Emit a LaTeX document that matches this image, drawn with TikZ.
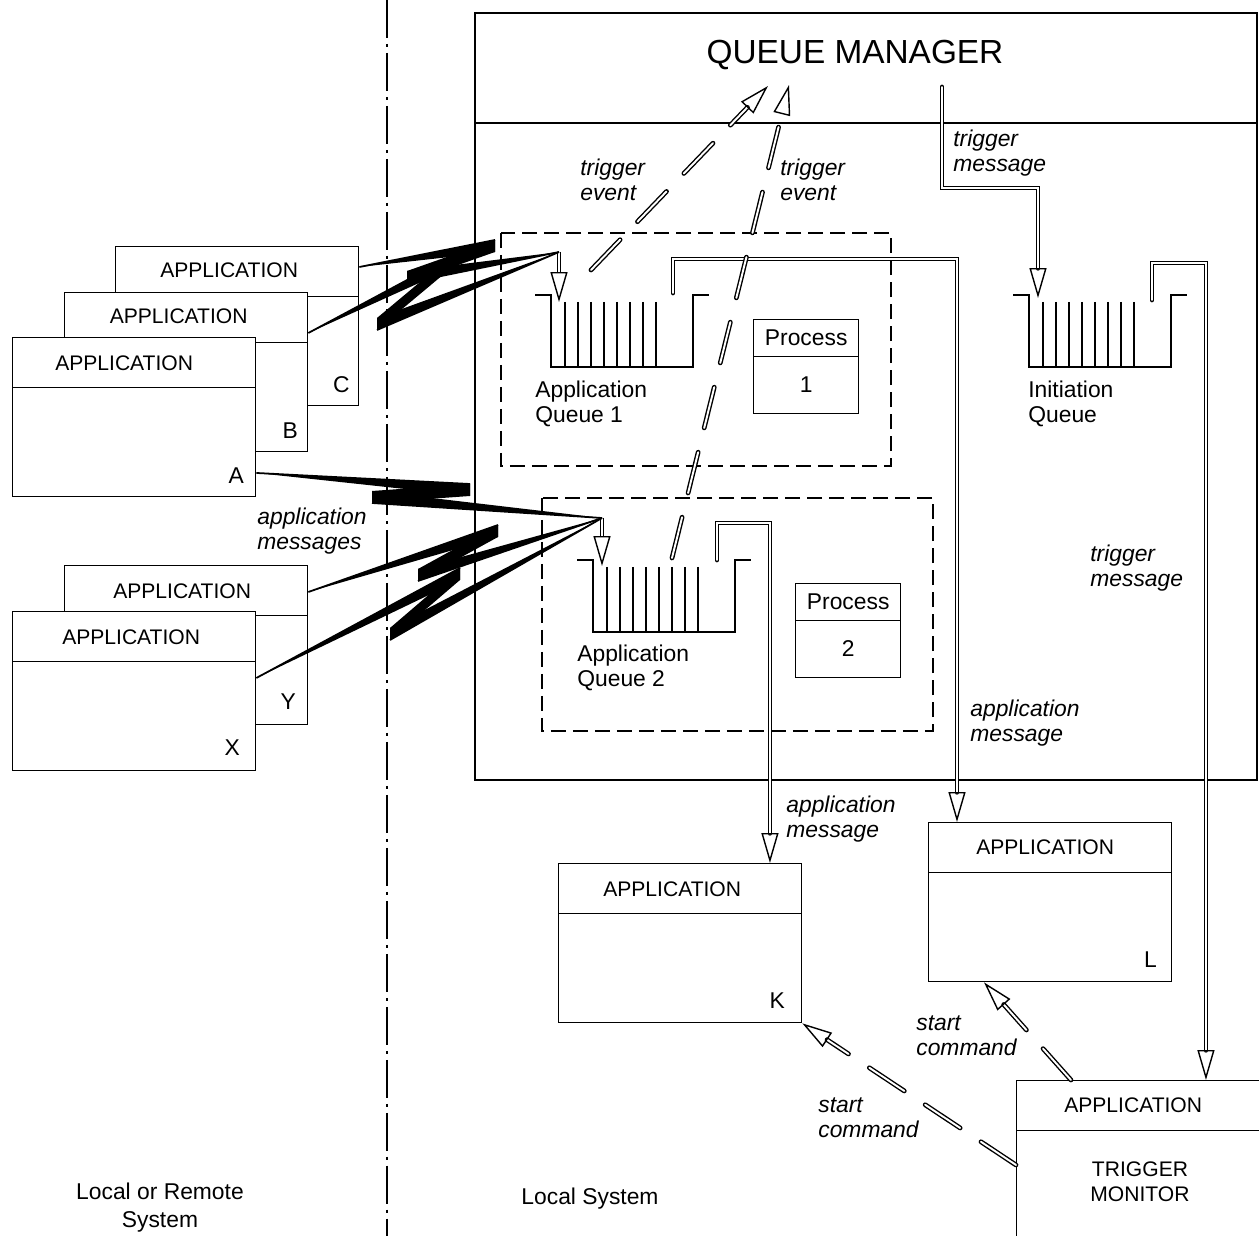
\documentclass[tikz,border=0pt]{standalone}
\usepackage{fontspec}
\setmainfont{Liberation Sans}
\usetikzlibrary{arrows.meta,calc}
\tikzset{
  boxline/.style={line width=0.8pt},
  msgarrow/.style={draw, double, double distance=1.1pt, line width=0.8pt,
    -{Triangle[open, length=0.6cm, width=0.34cm, line width=0.8pt]}},
  evarrow/.style={msgarrow, line cap=round, dash pattern=on 0.84cm off 0.5cm},
}
% link symbol: source, first tip, second tip, target
\newcommand{\bolt}[4]{%
  \fill (#1) -- (#2) -- ($(#2)+(0,12)$) -- cycle;
  \fill (#2) -- ($(#3)+(0,-12)$) -- (#3) -- ($(#2)+(0,12)$) -- cycle;
  \fill ($(#3)+(0,-12)$) -- (#4) -- (#3) -- cycle;
  \draw[line width=1pt] (#1) -- (#2) (#3) -- (#4);}

\begin{document}
\begin{tikzpicture}[x=0.02cm, y=-0.02cm,
    appbox/.style={draw, boxline, fill=white, anchor=north west, inner sep=0pt,
      minimum width=4.86cm, minimum height=3.18cm,
      path picture={\draw[boxline] ([yshift=-1cm]path picture bounding box.north west) -- ([yshift=-1cm]path picture bounding box.north east);}},
    procbox/.style={appbox, minimum width=2.1cm, minimum height=1.88cm,
      path picture={\draw[boxline] ([yshift=-0.74cm]path picture bounding box.north west) -- ([yshift=-0.74cm]path picture bounding box.north east);}},
    apptext/.style={font=\fontsize{12}{14}\selectfont, inner sep=0pt},
    tag/.style={font=\fontsize{13}{15}\selectfont, inner sep=0pt},
    plain/.style={font=\fontsize{13}{14.2}\selectfont, align=left, anchor=west, inner sep=0pt},
    lbl/.style={plain, font=\fontsize{13}{14.2}\selectfont\itshape},
    qbox/.style={boxline, dash pattern=on 0.3cm off 0.14cm}]
  \useasboundingbox (0,0) rectangle (1259,1236);
  % systems
  \draw[boxline, dash pattern=on 0.76cm off 0.12cm on 0.06cm off 0.12cm] (387,0) -- (387,1236);
  \node[tag, align=center, font=\fontsize{13}{16}\selectfont] (remsys) at (160,1208) {Local or Remote\\System};
  \node[tag] (locsys) at (590,1199) {Local System};
  % queue manager
  \draw[boxline] (475,13) rectangle (1257,780);
  \draw[boxline] (475,123) -- (1257,123);
  \node[font=\fontsize{19}{22}\selectfont, inner sep=0pt] (qmgr) at (855,55) {QUEUE MANAGER};
  % queues
  \draw[qbox] (501,233) rectangle (891,466);
  \draw[qbox] (542,498) rectangle (933,731);
  \foreach \qx/\qy in {535/295, 577/560, 1013/295} {
    \draw[boxline] (\qx,\qy) -- ++(16,0) -- ++(0,72) -- ++(142,0) -- ++(0,-72) -- ++(16,0);
    \foreach \b in {0,...,7}
      \draw[boxline] (\qx+30+13*\b,\qy+7) -- ++(0,65);
  }
  \node[plain] (qonename) at (535,404) {Application\\Queue 1};
  \node[plain] (qtwoname) at (577,668) {Application\\Queue 2};
  \node[plain] (initname) at (1028,404) {Initiation\\Queue};
  \node[procbox] (procone) at (753,319) {};
  \node[tag] (proconet) at ([yshift=-0.37cm]procone.north) {Process};
  \node[tag] (proconen) at ([yshift=-1.31cm]procone.north) {1};
  \node[procbox] (proctwo) at (795,583) {};
  \node[tag] (proctwot) at ([yshift=-0.37cm]proctwo.north) {Process};
  \node[tag] (proctwon) at ([yshift=-1.31cm]proctwo.north) {2};
  % applications, local or remote
  \node[appbox] (appC) at (115,246) {};
  \node[apptext] (appCt) at ([xshift=-0.16cm,yshift=-0.48cm]appC.north) {APPLICATION};
  \node[tag] (appCl) at ([xshift=-0.36cm,yshift=0.44cm]appC.south east) {C};
  \node[appbox] (appB) at (64,292) {};
  \node[apptext] (appBt) at ([xshift=-0.15cm,yshift=-0.48cm]appB.north) {APPLICATION};
  \node[tag] (appBl) at ([xshift=-0.36cm,yshift=0.44cm]appB.south east) {B};
  \node[appbox] (appA) at (12,337) {};
  \node[apptext] (appAt) at ([xshift=-0.2cm,yshift=-0.52cm]appA.north) {APPLICATION};
  \node[tag] (appAl) at ([xshift=-0.4cm,yshift=0.44cm]appA.south east) {A};
  \node[appbox] (appY) at (64,565) {};
  \node[apptext] (appYt) at ([xshift=-0.08cm,yshift=-0.52cm]appY.north) {APPLICATION};
  \node[tag] (appYl) at ([xshift=-0.4cm,yshift=0.48cm]appY.south east) {Y};
  \node[appbox] (appX) at (12,611) {};
  \node[apptext] (appXt) at ([xshift=-0.06cm,yshift=-0.52cm]appX.north) {APPLICATION};
  \node[tag] (appXl) at ([xshift=-0.48cm,yshift=0.48cm]appX.south east) {X};
  % applications, local
  \node[appbox] (appK) at (558,863) {};
  \node[apptext] (appKt) at ([xshift=-0.16cm,yshift=-0.52cm]appK.north) {APPLICATION};
  \node[tag] (appKl) at ([xshift=-0.5cm,yshift=0.46cm]appK.south east) {K};
  \node[appbox] (appL) at (928,822) {};
  \node[apptext] (appLt) at ([xshift=-0.1cm,yshift=-0.5cm]appL.north) {APPLICATION};
  \node[tag] (appLl) at ([xshift=-0.44cm,yshift=0.46cm]appL.south east) {L};
  \node[appbox, minimum height=3.4cm] (trigmon) at (1016,1080) {};
  \node[apptext] (trigmont) at ([xshift=-0.1cm,yshift=-0.5cm]trigmon.north) {APPLICATION};
  \node[apptext, align=center, font=\fontsize{12}{14.2}\selectfont] (trigmonn) at (1140,1182) {TRIGGER\\MONITOR};
  % end points
  \coordinate (qonein) at (559,252);
  \coordinate (qoneslot) at (559,302);
  \coordinate (qtwoin) at (602,518);
  \coordinate (qtwoslot) at (602,566);
  \coordinate (qoneout) at (673,293);
  \coordinate (qtwoout) at (717,560);
  \coordinate (qmtrig) at (942,87);
  \coordinate (initslot) at (1038,298);
  \coordinate (initout) at (1152,300);
  \coordinate (qoneev) at (591,270);
  \coordinate (qtwoev) at (672,558);
  \coordinate (qmevone) at (768,86);
  \coordinate (qmevtwo) at (789,85);
  % application messages
  \draw[msgarrow] (qonein) -- (qoneslot);
  \draw[msgarrow] (qtwoin) -- (qtwoslot);
  \draw[msgarrow, line cap=round] (qoneout) -- ++(0,-34) -| ([xshift=0.58cm]appL.north west);
  \draw[msgarrow, line cap=round] (qtwoout) -- ++(0,-37) -| ([xshift=4.24cm]appK.north west);
  % trigger messages
  \draw[msgarrow, line cap=round] (qmtrig) -- ++(0,101) -| (initslot);
  \draw[msgarrow, line cap=round] (initout) -- ++(0,-37) -| ([xshift=3.8cm]trigmon.north west);
  % trigger events
  \draw[evarrow] (qoneev) -- (qmevone);
  \draw[evarrow] (qtwoev) -- (qmevtwo);
  % start commands
  \draw[evarrow] ([yshift=-1.7cm]trigmon.north west) -- (appK.south east);
  \draw[evarrow] ([xshift=1.1cm]trigmon.north west) -- ([xshift=1.12cm]appL.south west);
  % links
  \bolt{[yshift=-0.42cm]appC.north east}{495,240}{407,283}{qonein}
  \bolt{[yshift=-0.82cm]appB.north east}{450,257}{377,330}{qonein}
  \bolt{[yshift=-2.72cm]appA.north east}{470,484}{372,503}{qtwoin}
  \bolt{[yshift=-0.54cm]appY.north east}{498,525}{418,581}{qtwoin}
  \bolt{[yshift=-1.34cm]appX.north east}{460,568}{390,640}{qtwoin}
  % labels
  \node[lbl] (evlblone) at (580,180) {trigger\\event};
  \node[lbl] (evlbltwo) at (780,180) {trigger\\event};
  \node[lbl] (tmlblone) at (953,153) {trigger\\message};
  \node[lbl] (tmlbltwo) at (1090,568) {trigger\\message};
  \node[lbl] (amlblin) at (257,531) {application\\messages};
  \node[lbl] (amlblL) at (970,723) {application\\message};
  \node[lbl] (amlblK) at (786,819) {application\\message};
  \node[lbl] (sclblL) at (916,1036) {start\\command};
  \node[lbl] (sclblK) at (818,1118) {start\\command};
\end{tikzpicture}
\end{document}
